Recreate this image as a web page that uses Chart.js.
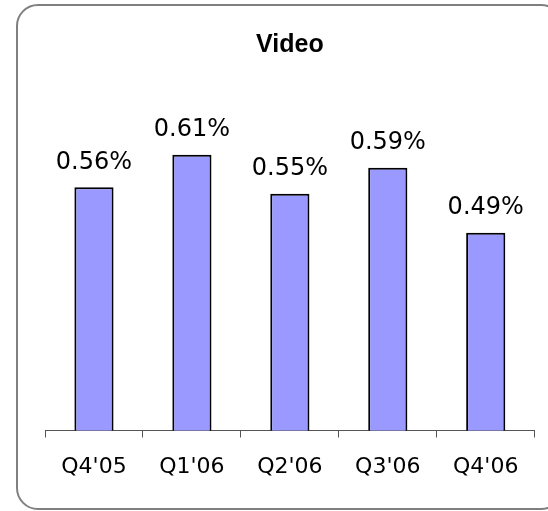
<!DOCTYPE html>
<html>
<head>
<meta charset="utf-8">
<script src="https://cdn.jsdelivr.net/npm/chart.js@4/dist/chart.umd.min.js"></script>
<style>
html,body{margin:0;padding:0;background:#fff;}
#wrap{width:548px;height:511px;position:relative;}
</style>
</head>
<body>
<div id="wrap"><canvas id="c" width="548" height="511"></canvas></div>
<script>
const categories = ["Q4'05", "Q1'06", "Q2'06", "Q3'06", "Q4'06"];
const videoShare = [0.56, 0.61, 0.55, 0.59, 0.49];
const chartTitle = "Video";
const axisMin = 0.186;
const axisMax = 0.694;

const frame = {
  id: 'frame',
  beforeDraw(chart) {
    const ctx = chart.ctx;
    ctx.save();
    ctx.fillStyle = '#fff';
    ctx.fillRect(0, 0, chart.width, chart.height);
    const x = 17, y = 5, w = 545, h = 504, r = 21;
    ctx.beginPath();
    ctx.moveTo(x + r, y);
    ctx.lineTo(x + w - r, y);
    ctx.arcTo(x + w, y, x + w, y + r, r);
    ctx.lineTo(x + w, y + h - r);
    ctx.arcTo(x + w, y + h, x + w - r, y + h, r);
    ctx.lineTo(x + r, y + h);
    ctx.arcTo(x, y + h, x, y + h - r, r);
    ctx.lineTo(x, y + r);
    ctx.arcTo(x, y, x + r, y, r);
    ctx.closePath();
    ctx.strokeStyle = '#808080';
    ctx.lineWidth = 2;
    ctx.stroke();
    ctx.restore();
  }
};

const valueLabels = {
  id: 'valueLabels',
  afterDatasetsDraw(chart) {
    const ctx = chart.ctx;
    const meta = chart.getDatasetMeta(0);
    ctx.save();
    ctx.font = '24px "DejaVu Sans"';
    ctx.fillStyle = '#000';
    ctx.textAlign = 'center';
    ctx.textBaseline = 'middle';
    meta.data.forEach((bar, i) => {
      const v = chart.data.datasets[0].data[i];
      ctx.fillText(v.toFixed(2) + '%', bar.x, bar.y - 24.5);
    });
    ctx.restore();
  }
};

new Chart(document.getElementById('c'), {
  type: 'bar',
  data: {
    labels: categories,
    datasets: [{
      data: videoShare,
      backgroundColor: '#9999FF',
      borderColor: '#000',
      borderWidth: 2,
      borderSkipped: false,
      barPercentage: 0.4,
      categoryPercentage: 1.0
    }]
  },
  options: {
    responsive: false,
    devicePixelRatio: 1,
    animation: false,
    layout: { padding: { left: 45, right: 13.3, top: 0, bottom: 0 } },
    plugins: {
      legend: { display: false },
      tooltip: { enabled: false },
      title: {
        display: true,
        text: chartTitle,
        color: '#000',
        font: { family: '"Liberation Sans", Arial, sans-serif', size: 25, weight: 'bold', lineHeight: 1.2 },
        padding: { top: 30.2, bottom: 39.8 }
      }
    },
    scales: {
      x: {
        offset: true,
        grid: { display: true, drawOnChartArea: false, drawTicks: true, tickLength: 7, color: '#555', offset: true },
        border: { display: true, color: '#555', width: 1 },
        ticks: { color: '#000', font: { family: '"DejaVu Sans"', size: 22 }, padding: 17, maxRotation: 0, autoSkip: false },
        afterFit(scale) { scale.height = 80.5; }
      },
      y: {
        display: false,
        min: axisMin,
        max: axisMax
      }
    }
  },
  plugins: [frame, valueLabels]
});
</script>
</body>
</html>
